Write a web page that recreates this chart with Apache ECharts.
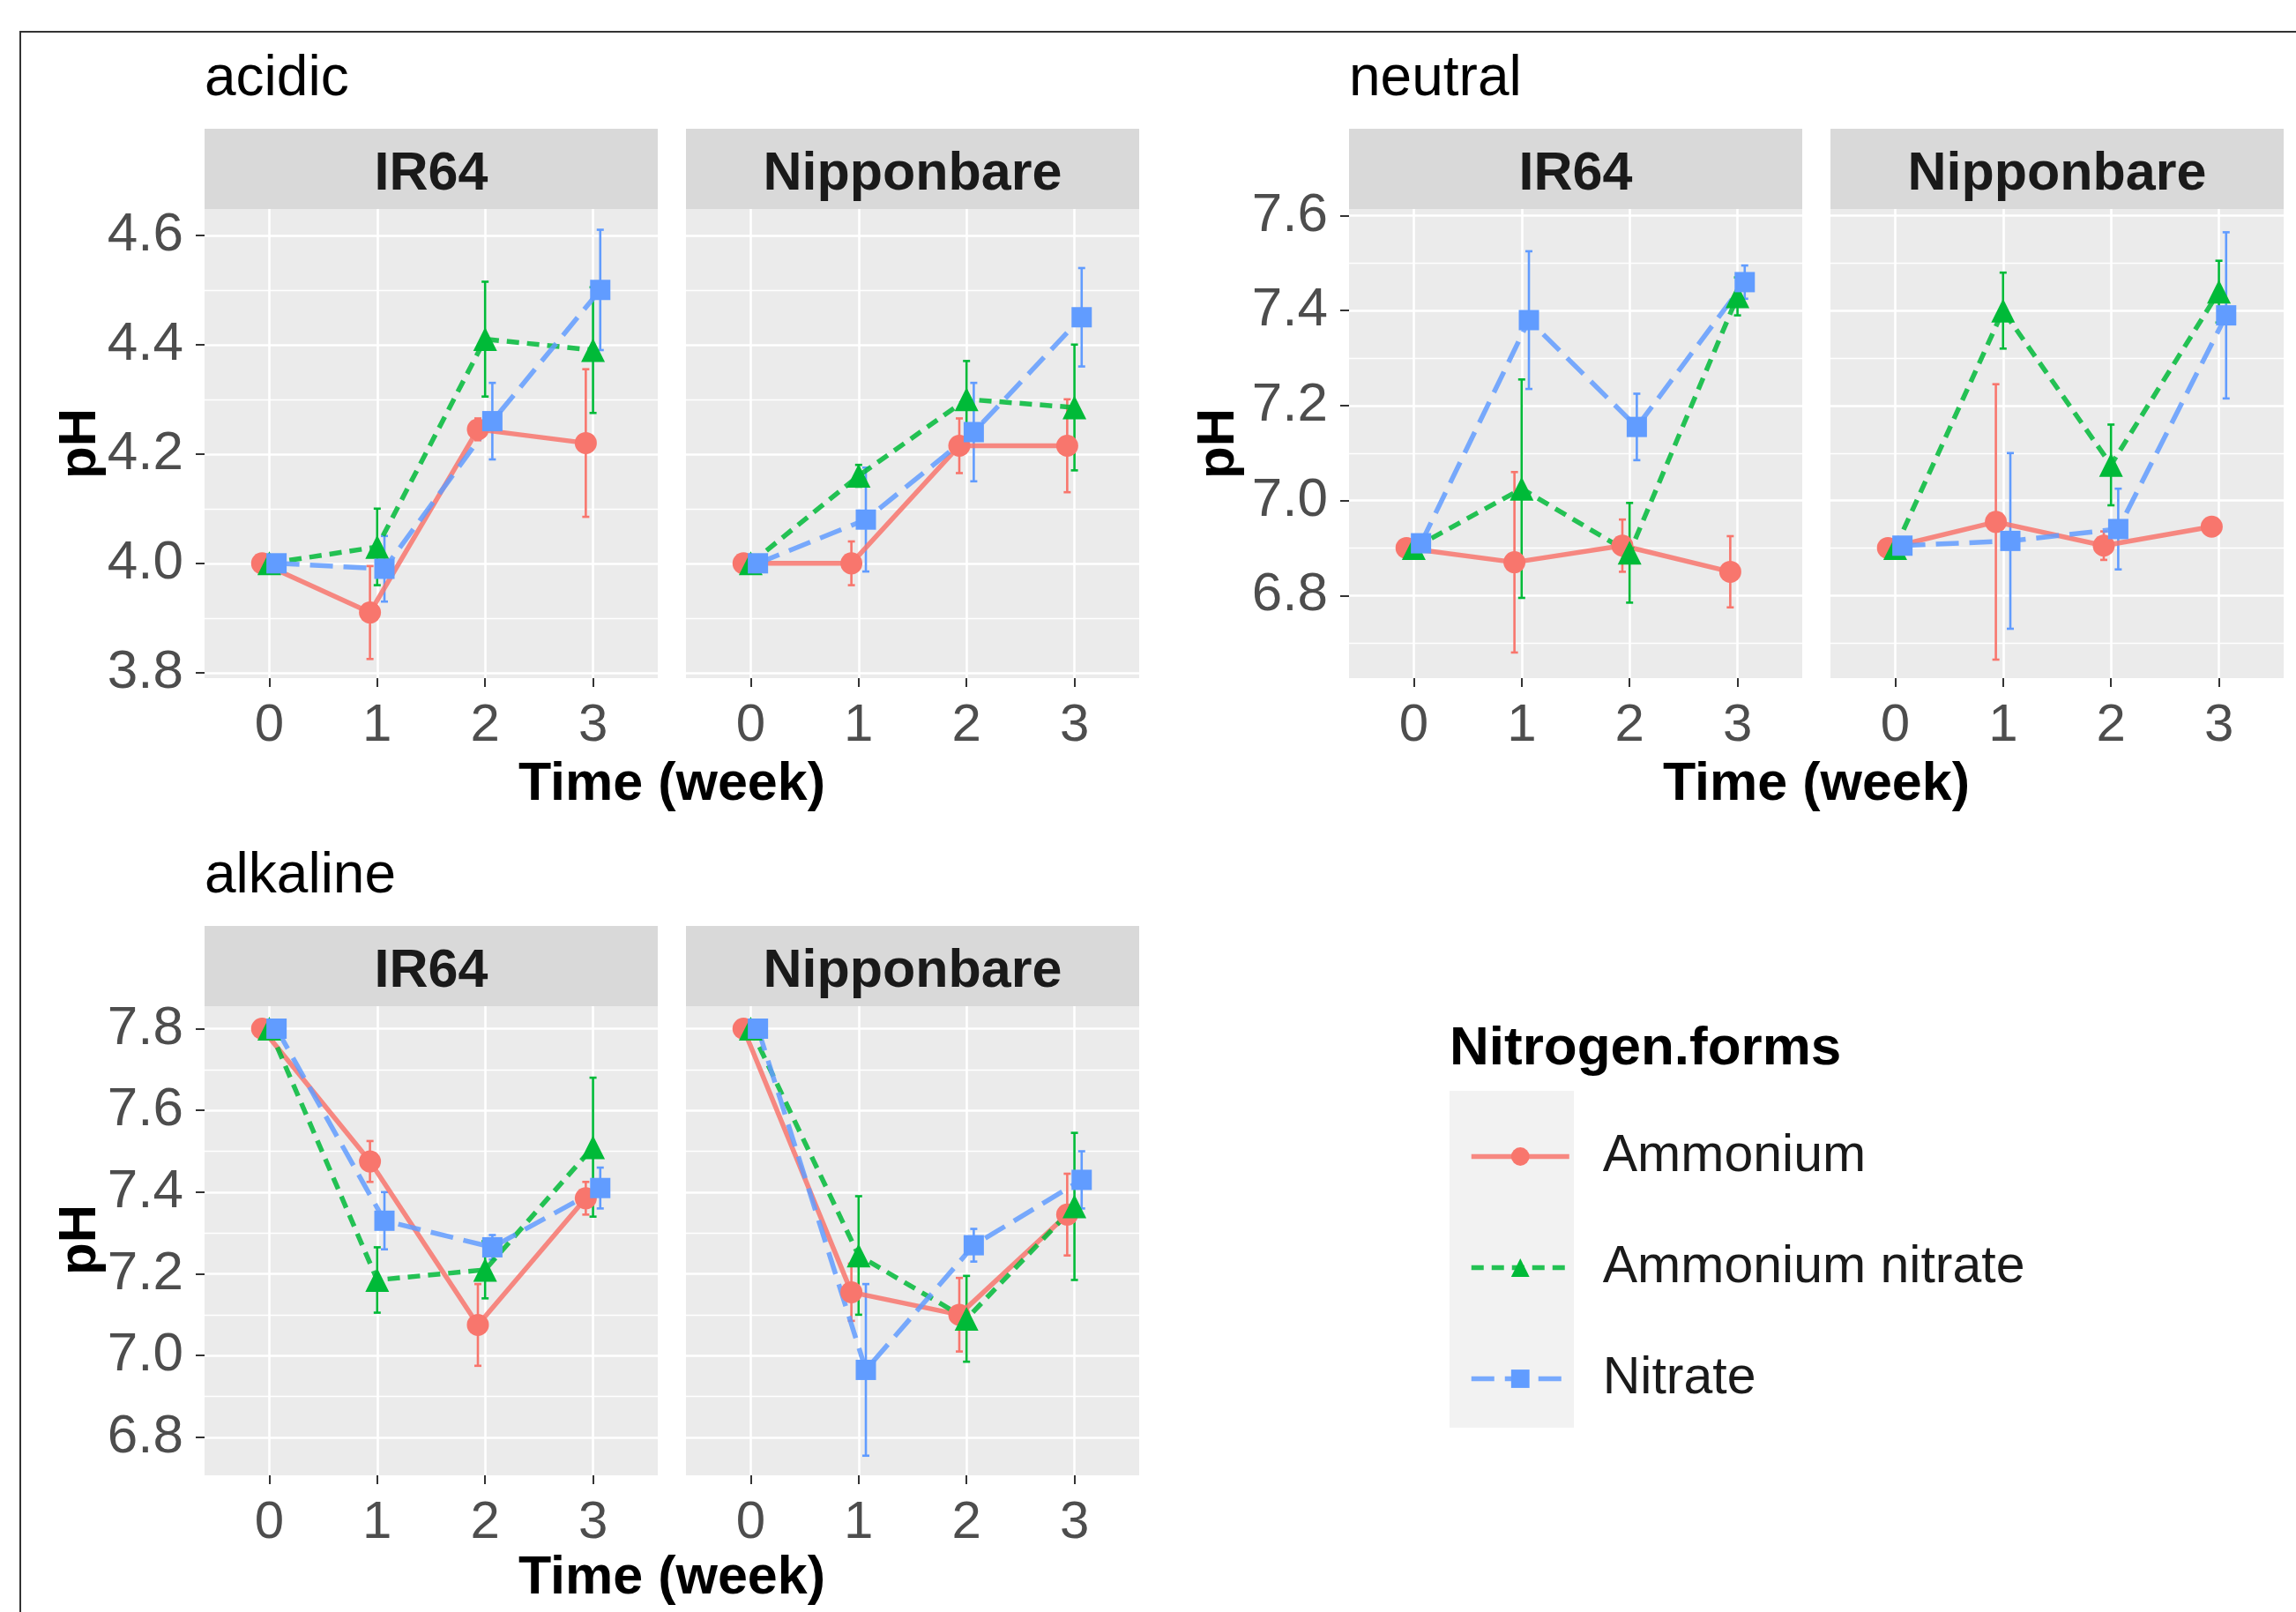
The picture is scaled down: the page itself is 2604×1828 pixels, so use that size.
<!DOCTYPE html>
<html>
<head>
<meta charset="utf-8">
<script src="https://cdn.jsdelivr.net/npm/echarts@6/dist/echarts.min.js"></script>
<style>
  html, body { margin: 0; padding: 0; background: #fff; }
  #chart { width: 2604px; height: 1828px; }
</style>
</head>
<body>
<div id="chart"></div>
<script>
const weeks = [0, 1, 2, 3];
const forms = ['Ammonium', 'Ammonium nitrate', 'Nitrate'];
const cultivars = ['IR64', 'Nipponbare'];
const soils = ['acidic', 'neutral', 'alkaline'];
const xTicks = [0, 1, 2, 3];

// y tick labels per soil (major + minor grid)
const yMajorAcidic = [3.8, 4.0, 4.2, 4.4, 4.6];
const yMinorAcidic = [3.9, 4.1, 4.3, 4.5];
const yMajorNeutral = [6.8, 7.0, 7.2, 7.4, 7.6];
const yMinorNeutral = [6.7, 6.9, 7.1, 7.3, 7.5];
const yMajorAlkaline = [6.8, 7.0, 7.2, 7.4, 7.6, 7.8];
const yMinorAlkaline = [6.9, 7.1, 7.3, 7.5, 7.7];

// mean pH, rows: Ammonium, Ammonium nitrate, Nitrate; cols: week 0..3
const acidicIR64Mean = [
  [4.00, 3.91, 4.245, 4.22],
  [4.00, 4.03, 4.41, 4.39],
  [4.00, 3.99, 4.26, 4.50]
];
const acidicIR64Err = [
  [0, 0.085, 0.02, 0.135],
  [0, 0.07, 0.105, 0.115],
  [0, 0.06, 0.07, 0.11]
];
const acidicNipMean = [
  [4.00, 4.00, 4.215, 4.215],
  [4.00, 4.16, 4.30, 4.285],
  [4.00, 4.08, 4.24, 4.45]
];
const acidicNipErr = [
  [0, 0.04, 0.05, 0.085],
  [0, 0.02, 0.07, 0.115],
  [0, 0.095, 0.09, 0.09]
];
const neutralIR64Mean = [
  [6.90, 6.87, 6.905, 6.85],
  [6.90, 7.025, 6.89, 7.43],
  [6.91, 7.38, 7.155, 7.46]
];
const neutralIR64Err = [
  [0, 0.19, 0.055, 0.075],
  [0, 0.23, 0.105, 0.04],
  [0, 0.145, 0.07, 0.035]
];
const neutralNipMean = [
  [6.90, 6.955, 6.905, 6.945],
  [6.90, 7.40, 7.075, 7.44],
  [6.905, 6.915, 6.94, 7.39]
];
const neutralNipErr = [
  [0, 0.29, 0.03, 0.01],
  [0, 0.08, 0.085, 0.065],
  [0, 0.185, 0.085, 0.175]
];
const alkalineIR64Mean = [
  [7.80, 7.475, 7.075, 7.385],
  [7.80, 7.185, 7.21, 7.51],
  [7.80, 7.33, 7.265, 7.41]
];
const alkalineIR64Err = [
  [0, 0.05, 0.1, 0.04],
  [0, 0.08, 0.07, 0.17],
  [0, 0.07, 0.03, 0.05]
];
const alkalineNipMean = [
  [7.80, 7.155, 7.10, 7.345],
  [7.80, 7.245, 7.09, 7.365],
  [7.80, 6.965, 7.27, 7.43]
];
const alkalineNipErr = [
  [0, 0.07, 0.09, 0.1],
  [0, 0.145, 0.105, 0.18],
  [0, 0.21, 0.04, 0.07]
];

const colors = ['#F8766D', '#00BA38', '#619CFF'];
const symbols = ['circle', 'triangle', 'rect'];
const symbolSizes = [25, 27, 23];
const dashes = ['solid', [14, 9], [26, 12]];
const dodge = [-0.067, 0, 0.067];
const FONT = '"Liberation Sans", Arial, sans-serif';

const PW = 514;
const PH = 532;
const panels = [
  { soil: 0, cv: 0, left: 232, top: 237, mean: acidicIR64Mean, err: acidicIR64Err },
  { soil: 0, cv: 1, left: 778, top: 237, mean: acidicNipMean, err: acidicNipErr },
  { soil: 1, cv: 0, left: 1530, top: 237, mean: neutralIR64Mean, err: neutralIR64Err },
  { soil: 1, cv: 1, left: 2076, top: 237, mean: neutralNipMean, err: neutralNipErr },
  { soil: 2, cv: 0, left: 232, top: 1141, mean: alkalineIR64Mean, err: alkalineIR64Err },
  { soil: 2, cv: 1, left: 778, top: 1141, mean: alkalineNipMean, err: alkalineNipErr }
];
const yRange = [[3.79, 4.648], [6.626, 7.614], [6.707, 7.855]];
const yMajor = [yMajorAcidic, yMajorNeutral, yMajorAlkaline];
const yMinor = [yMinorAcidic, yMinorNeutral, yMinorAlkaline];

const grid = [], xAxis = [], yAxis = [], series = [];

panels.forEach((p, g) => {
  grid.push({
    left: p.left, top: p.top, width: PW, height: PH,
    show: true, backgroundColor: '#EBEBEB', borderWidth: 0,
    outerBoundsMode: 'none'
  });
  xAxis.push({
    type: 'value', gridIndex: g, min: -0.6, max: 3.6, position: 'bottom',
    axisLine: { show: false },
    axisTick: { show: true, length: 10, customValues: xTicks, lineStyle: { color: '#333', width: 2 } },
    axisLabel: { customValues: xTicks, margin: 24, fontSize: 60, color: '#4D4D4D', fontFamily: FONT,
      formatter: v => String(v) },
    splitLine: { show: true, lineStyle: { color: '#fff', width: 2.6 } }
  });
  const r = yRange[p.soil];
  // minor grid axis
  yAxis.push({
    type: 'value', gridIndex: g, min: r[0], max: r[1], position: 'left',
    axisLine: { show: false },
    axisTick: { show: false, customValues: yMinor[p.soil] },
    axisLabel: { show: false, customValues: yMinor[p.soil] },
    splitLine: { show: true, lineStyle: { color: '#fff', width: 1.3 } }
  });
  // major axis
  yAxis.push({
    type: 'value', gridIndex: g, min: r[0], max: r[1], position: 'left',
    axisLine: { show: false },
    axisTick: { show: p.cv === 0, length: 10, customValues: yMajor[p.soil], lineStyle: { color: '#333', width: 2 } },
    axisLabel: { show: p.cv === 0, customValues: yMajor[p.soil], margin: 24, fontSize: 62, color: '#4D4D4D',
      fontFamily: FONT, formatter: v => v.toFixed(1) },
    splitLine: { show: true, lineStyle: { color: '#fff', width: 2.6 } }
  });

  forms.forEach((f, k) => {
    // error bars
    series.push({
      type: 'custom', name: f + ' err', xAxisIndex: g, yAxisIndex: 2 * g + 1,
      data: weeks.map((w, i) => [w + dodge[k], p.mean[k][i] - p.err[k][i], p.mean[k][i] + p.err[k][i]]),
      encode: { x: 0, y: [1, 2] },
      z: 2, silent: true,
      renderItem: (params, api) => {
        const x = api.value(0);
        const lo = api.coord([x, api.value(1)]);
        const hi = api.coord([x, api.value(2)]);
        if (Math.abs(lo[1] - hi[1]) < 1) return null;
        const st = { stroke: colors[k], lineWidth: 2.6 };
        return {
          type: 'group',
          children: [
            { type: 'line', shape: { x1: lo[0], y1: lo[1], x2: hi[0], y2: hi[1] }, style: st },
            { type: 'line', shape: { x1: lo[0] - 4, y1: lo[1], x2: lo[0] + 4, y2: lo[1] }, style: st },
            { type: 'line', shape: { x1: hi[0] - 4, y1: hi[1], x2: hi[0] + 4, y2: hi[1] }, style: st }
          ]
        };
      }
    });
    // lines + points
    series.push({
      type: 'line', name: f, xAxisIndex: g, yAxisIndex: 2 * g + 1,
      data: weeks.map((w, i) => [w + dodge[k], p.mean[k][i]]),
      symbol: symbols[k], symbolSize: symbolSizes[k], showAllSymbol: true,
      lineStyle: { color: colors[k], width: 5.5, type: dashes[k], opacity: 0.85 },
      itemStyle: { color: colors[k], opacity: 1 },
      z: 3, silent: true
    });
  });
});

const graphics = [];
// outer frame
graphics.push({ type: 'rect', shape: { x: 23, y: 36, width: 2640, height: 1860 },
  style: { fill: 'none', stroke: '#333', lineWidth: 2 }, silent: true });

// soil titles
const soilTitlePos = [[232, 90], [1530, 90], [232, 994]];
soils.forEach((s, i) => {
  graphics.push({ type: 'text', x: soilTitlePos[i][0], y: soilTitlePos[i][1],
    style: { text: s, font: '64px ' + FONT, fill: '#000', textAlign: 'left', textVerticalAlign: 'middle' } });
});

// strips
panels.forEach(p => {
  graphics.push({ type: 'rect', shape: { x: p.left, y: p.top - 91, width: PW, height: 91 },
    style: { fill: '#D9D9D9' }, silent: true });
  graphics.push({ type: 'text', x: p.left + PW / 2, y: p.top - 39,
    style: { text: cultivars[p.cv], font: 'bold 61px ' + FONT, fill: '#1A1A1A',
      textAlign: 'center', textVerticalAlign: 'middle' } });
});

// axis titles
const xTitlePos = [[762, 890], [2060, 890], [762, 1790]];
const yTitlePos = [[91, 503], [1382, 503], [91, 1406]];
soils.forEach((s, i) => {
  graphics.push({ type: 'text', x: xTitlePos[i][0], y: xTitlePos[i][1],
    style: { text: 'Time (week)', font: 'bold 61px ' + FONT, fill: '#000',
      textAlign: 'center', textVerticalAlign: 'middle' } });
  graphics.push({ type: 'text', x: yTitlePos[i][0], y: yTitlePos[i][1], rotation: Math.PI / 2,
    style: { text: 'pH', font: 'bold 60px ' + FONT, fill: '#000',
      textAlign: 'center', textVerticalAlign: 'middle' } });
});

// legend title + key background
graphics.push({ type: 'text', x: 1644, y: 1190,
  style: { text: 'Nitrogen.forms', font: 'bold 62px ' + FONT, fill: '#000',
    textAlign: 'left', textVerticalAlign: 'middle' } });
graphics.push({ type: 'rect', shape: { x: 1644, y: 1237, width: 141, height: 382 },
  style: { fill: '#F2F2F2' }, silent: true, z: -1 });

const chart = echarts.init(document.getElementById('chart'));
chart.setOption({
  animation: false,
  backgroundColor: '#fff',
  grid: grid,
  xAxis: xAxis,
  yAxis: yAxis,
  series: series,
  legend: {
    data: forms,
    orient: 'vertical',
    left: 1661, top: 1277,
    itemWidth: 111, itemHeight: 26, itemGap: 67,
    selectedMode: false,
    lineStyle: { width: 5.5 },
    textStyle: { fontSize: 59, color: '#1A1A1A', fontFamily: FONT, padding: [0, 0, 0, 33] }
  },
  graphic: graphics
});
</script>
</body>
</html>
